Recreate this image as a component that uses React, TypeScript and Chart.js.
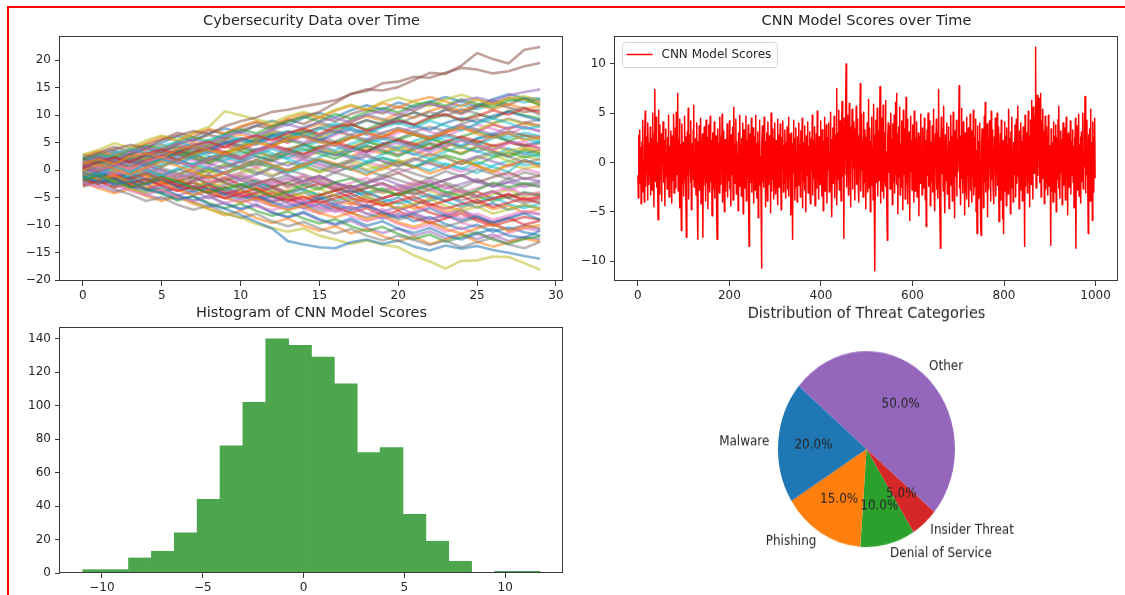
import React, { useEffect, useRef } from "react";
import { Chart, registerables } from "chart.js";

Chart.register(...registerables);

const FONT = "'DejaVu Sans', 'Noto Sans', sans-serif";
const TEXT = "#262626";
const SPINE = "#3a3a3a";

// ---------- data ----------
const timeSteps = [0, 1, 2, 3, 4, 5, 6, 7, 8, 9, 10, 11, 12, 13, 14, 15, 16, 17, 18, 19, 20, 21, 22, 23, 24, 25, 26, 27, 28, 29];
const walkColors = ["#1f77b4", "#ff7f0e", "#2ca02c", "#d62728", "#9467bd", "#8c564b", "#e377c2", "#7f7f7f", "#bcbd22", "#17becf"];
const walks: number[][] = [
  [-0.5, -1.2, -2.6, -2.0, -3.5, -4.1, -5.3, -4.8, -6.2, -7.0, -8.1, -9.4, -10.6, -12.9, -13.5, -14.0, -14.2, -13.1, -12.6, -13.4, -12.8, -13.9, -14.6, -13.7, -14.3, -13.8, -14.5, -15.0, -15.6, -16.1],
  [1.2, 2.0, 1.1, 2.5, 3.1, 2.2, 3.8, 4.4, 3.6, 2.9, 4.1, 5.0, 4.3, 5.7, 6.2, 5.1, 4.6, 5.9, 6.8, 6.0, 7.3, 6.5, 5.8, 6.9, 7.7, 6.6, 5.9, 6.7, 5.5, 6.0],
  [-1.8, -0.9, -2.1, -3.0, -2.4, -1.2, -2.0, -3.3, -4.1, -3.2, -2.5, -3.6, -4.8, -3.9, -2.7, -3.5, -2.2, -1.5, -2.8, -3.7, -4.5, -3.4, -2.6, -3.9, -4.7, -3.6, -2.3, -3.1, -2.4, -3.0],
  [0.4, 1.6, 2.3, 1.5, 2.9, 3.8, 3.0, 4.5, 5.2, 4.1, 5.6, 6.3, 5.4, 6.8, 7.5, 6.6, 7.9, 8.4, 7.2, 8.1, 9.0, 8.3, 9.6, 10.2, 9.1, 9.8, 10.9, 10.1, 11.2, 10.5],
  [1.5, 2.4, 1.8, 3.3, 4.1, 3.5, 4.9, 5.6, 4.8, 6.2, 7.0, 6.1, 7.4, 8.3, 7.6, 8.8, 9.5, 8.7, 10.1, 10.8, 10.0, 11.3, 12.1, 11.4, 12.6, 13.2, 12.5, 13.6, 14.2, 14.7],
  [2.0, 3.1, 3.8, 4.6, 4.0, 5.5, 6.3, 7.1, 6.6, 8.0, 8.9, 9.6, 10.6, 11.0, 11.6, 12.1, 12.7, 13.8, 14.7, 14.5, 15.1, 16.4, 17.7, 17.5, 19.0, 21.3, 20.2, 19.4, 21.9, 22.4],
  [-2.3, -3.1, -2.4, -3.8, -4.5, -3.6, -4.9, -5.7, -4.8, -6.0, -5.2, -6.5, -7.3, -6.4, -5.5, -6.8, -7.6, -6.7, -8.0, -7.1, -8.3, -7.5, -6.6, -7.8, -8.7, -7.9, -9.0, -8.2, -7.4, -8.0],
  [0.9, 0.1, 1.4, 2.2, 1.3, 0.6, 1.9, 2.7, 1.8, 3.0, 2.1, 1.2, 2.5, 3.4, 2.6, 1.7, 0.8, 1.9, 2.8, 1.6, 0.7, 1.8, 3.0, 2.2, 1.1, 2.4, 3.3, 2.5, 1.4, 2.0],
  [-0.2, -1.3, -2.0, -3.4, -4.1, -3.5, -5.0, -5.8, -7.1, -7.9, -8.6, -9.8, -10.5, -11.2, -10.6, -11.9, -12.6, -13.4, -12.8, -13.5, -14.0, -15.5, -16.6, -17.9, -16.5, -16.4, -15.7, -15.8, -16.9, -18.1],
  [2.5, 1.7, 3.0, 3.9, 3.1, 4.4, 5.2, 4.3, 5.6, 6.4, 5.5, 4.7, 6.0, 6.9, 6.1, 7.4, 8.2, 7.3, 6.5, 7.8, 8.6, 7.7, 9.0, 8.1, 7.2, 8.5, 9.4, 8.6, 7.5, 8.0],
  [-1.1, -2.2, -1.5, -3.0, -3.9, -3.2, -4.6, -5.5, -4.7, -6.1, -7.0, -6.2, -7.7, -8.5, -7.6, -8.9, -9.8, -8.8, -10.1, -9.3, -10.6, -11.4, -10.5, -11.8, -12.6, -11.5, -10.7, -11.9, -12.3, -11.0],
  [0.0, 1.1, 0.3, -0.8, 0.5, 1.6, 0.8, -0.3, -1.4, -0.5, 0.7, 1.9, 1.0, -0.1, 0.9, 2.1, 1.2, 0.2, -0.9, 0.3, 1.5, 0.6, -0.6, 0.4, 1.7, 0.8, -0.4, 0.9, 1.8, 0.5],
  [1.9, 3.0, 2.2, 3.6, 4.5, 3.8, 5.1, 6.0, 5.2, 6.6, 7.4, 6.7, 8.0, 8.8, 9.7, 8.9, 10.2, 9.4, 10.6, 11.3, 10.5, 11.8, 12.5, 11.7, 12.9, 12.1, 11.4, 12.6, 13.0, 11.8],
  [-2.7, -1.9, -3.2, -2.4, -1.6, -2.9, -3.8, -3.0, -4.3, -5.1, -4.2, -3.4, -4.7, -5.6, -4.8, -6.0, -5.1, -4.3, -5.5, -6.4, -5.6, -4.8, -6.1, -7.0, -6.2, -5.4, -6.7, -5.9, -5.1, -6.0],
  [0.6, -0.4, 0.8, 1.7, 0.9, -0.2, -1.3, -0.5, 0.6, -0.6, -1.7, -0.8, 0.3, -0.9, -2.0, -1.1, -2.3, -3.2, -2.4, -1.5, -2.6, -3.5, -2.7, -1.8, -0.9, -2.1, -3.0, -2.2, -1.4, -2.0],
  [1.0, 2.2, 1.6, 3.0, 3.9, 3.2, 4.7, 5.5, 6.4, 5.8, 7.2, 8.1, 7.5, 8.9, 9.8, 10.6, 12.2, 13.9, 14.4, 15.8, 16.1, 17.0, 16.8, 17.7, 18.6, 18.3, 17.6, 18.0, 18.9, 19.5],
  [-0.8, 0.3, 1.1, 0.2, 1.5, 2.4, 1.6, 0.7, 2.0, 2.9, 2.0, 3.3, 4.2, 3.3, 2.4, 3.7, 4.6, 3.7, 2.8, 4.1, 5.0, 4.1, 3.2, 4.5, 5.4, 4.5, 3.6, 4.9, 5.2, 4.0],
  [-3.0, -2.1, -3.5, -4.4, -5.6, -4.9, -6.3, -7.2, -6.4, -7.8, -8.7, -7.9, -9.3, -10.2, -9.4, -10.6, -11.5, -10.7, -11.9, -12.8, -11.9, -12.7, -13.6, -12.8, -14.0, -13.1, -12.3, -13.5, -14.2, -13.0],
  [2.8, 3.7, 4.9, 4.1, 5.4, 6.3, 5.5, 6.8, 7.9, 10.7, 10.0, 9.2, 8.6, 9.8, 10.6, 9.7, 11.0, 11.9, 11.1, 12.4, 13.2, 12.4, 11.6, 12.9, 13.7, 12.8, 11.9, 13.0, 13.5, 12.6],
  [-1.5, -0.6, 0.5, -0.3, 1.0, 1.9, 1.1, 2.4, 3.3, 2.5, 1.6, 2.9, 3.8, 3.0, 4.3, 5.2, 4.4, 3.5, 4.8, 5.7, 4.9, 4.0, 5.3, 6.2, 5.4, 4.5, 5.8, 6.6, 5.7, 5.0],
  [0.3, 1.4, 2.3, 1.5, 2.8, 2.0, 3.4, 4.3, 3.5, 4.9, 5.8, 5.0, 6.3, 7.1, 6.3, 5.4, 6.7, 7.6, 6.8, 8.1, 9.0, 8.2, 7.3, 8.6, 9.5, 8.7, 9.9, 10.6, 9.8, 9.0],
  [-0.6, -1.7, -0.9, -2.3, -3.1, -2.2, -3.6, -4.5, -3.7, -5.0, -5.9, -5.1, -6.4, -7.3, -6.5, -7.8, -8.6, -7.7, -9.0, -8.2, -9.5, -10.3, -9.4, -10.7, -11.5, -10.6, -9.8, -11.1, -10.4, -10.0],
  [2.2, 1.3, 2.6, 1.7, 0.8, 2.1, 3.0, 2.2, 1.3, 2.6, 3.5, 2.6, 1.7, 3.0, 3.9, 3.0, 2.1, 3.4, 4.3, 3.4, 2.5, 3.8, 4.7, 3.8, 2.9, 4.2, 3.3, 2.4, 3.6, 3.0],
  [-1.4, -2.5, -1.7, -3.0, -2.2, -1.3, -2.6, -3.5, -2.7, -4.0, -4.9, -4.1, -3.2, -4.5, -5.4, -4.6, -3.7, -5.0, -5.9, -5.1, -4.2, -5.5, -6.4, -5.6, -4.7, -6.0, -5.2, -4.3, -5.6, -5.0],
  [0.7, 1.8, 1.0, 2.4, 3.3, 2.5, 3.9, 4.8, 4.0, 5.3, 4.5, 3.6, 4.9, 5.8, 5.0, 6.3, 7.2, 6.4, 5.5, 6.8, 7.7, 6.9, 6.0, 7.3, 8.2, 7.4, 6.5, 7.8, 7.9, 7.0],
  [-2.0, -1.1, -2.3, -1.4, -0.5, -1.8, -2.7, -1.9, -1.0, -2.3, -3.2, -2.4, -1.5, -2.8, -1.9, -1.0, -2.3, -3.2, -2.3, -1.4, -0.5, -1.8, -2.7, -1.8, -0.9, -2.2, -1.3, -0.4, -1.6, -1.0],
  [1.3, 0.4, -0.7, 0.5, -0.4, -1.6, -0.8, -2.1, -1.3, -0.4, -1.7, -2.6, -1.8, -3.1, -2.2, -1.3, -2.6, -3.5, -2.7, -4.0, -3.1, -2.2, -3.5, -4.4, -3.6, -4.9, -4.0, -3.1, -4.5, -4.0],
  [-0.3, 0.8, 1.9, 1.1, 2.4, 3.3, 4.5, 3.7, 5.0, 5.9, 5.1, 6.4, 7.3, 6.5, 7.8, 8.7, 7.9, 9.2, 10.1, 9.3, 8.4, 9.7, 10.6, 9.8, 11.1, 10.3, 9.4, 10.7, 11.4, 10.0],
  [1.7, 0.6, -0.3, 0.5, -0.8, -1.7, -0.9, -2.2, -3.1, -2.3, -3.6, -4.5, -3.7, -5.0, -4.2, -3.3, -4.6, -5.5, -4.7, -6.0, -6.9, -6.1, -5.2, -6.5, -7.4, -6.6, -7.9, -7.1, -6.3, -7.0],
  [-2.5, -1.4, -2.2, -0.9, -0.1, -1.0, 0.3, 1.2, 0.4, -0.5, 0.8, 1.7, 0.9, -0.4, 0.5, 1.8, 1.0, 0.1, 1.4, 2.3, 1.5, 0.6, 1.9, 1.0, 0.2, 1.5, 0.6, -0.3, 1.9, 1.0],
  [0.1, -1.0, -0.2, -1.6, -2.5, -1.7, -3.0, -3.9, -3.1, -4.4, -5.3, -4.5, -5.8, -6.7, -5.9, -5.0, -6.3, -7.2, -6.4, -7.7, -8.6, -7.8, -6.9, -8.2, -9.1, -8.3, -9.6, -8.8, -7.9, -9.0],
  [2.6, 3.5, 2.7, 4.0, 4.9, 6.1, 5.3, 6.6, 7.5, 6.7, 8.0, 8.9, 8.1, 9.4, 10.3, 9.5, 10.8, 11.7, 10.9, 12.2, 11.3, 12.6, 13.3, 12.5, 11.6, 12.9, 12.0, 13.2, 12.8, 12.0],
  [-0.9, -2.0, -2.9, -2.1, -3.4, -4.3, -5.5, -4.7, -6.0, -6.9, -6.1, -7.4, -8.3, -7.5, -8.8, -9.7, -8.9, -10.2, -11.1, -10.3, -11.6, -12.5, -11.7, -13.0, -12.2, -11.3, -12.6, -13.4, -12.5, -12.0],
  [1.1, 2.2, 1.4, 0.5, 1.8, 2.7, 1.9, 3.2, 4.1, 3.3, 2.4, 3.7, 4.6, 3.8, 2.9, 4.2, 5.1, 4.3, 3.4, 4.7, 5.6, 4.8, 3.9, 5.2, 6.1, 5.3, 4.4, 5.1, 4.6, 4.0],
  [-1.9, -1.0, -2.3, -3.2, -2.4, -3.7, -4.6, -3.8, -5.1, -4.3, -3.4, -4.7, -5.6, -4.8, -6.1, -7.0, -6.2, -5.3, -6.6, -7.5, -6.7, -8.0, -8.9, -8.1, -7.2, -8.5, -9.4, -8.6, -7.7, -8.0],
  [0.5, -0.4, 0.9, 1.8, 1.0, 2.3, 1.5, 0.6, 1.9, 2.8, 2.0, 3.3, 4.2, 3.4, 4.7, 5.6, 4.8, 3.9, 5.2, 6.1, 5.3, 4.4, 5.7, 6.6, 5.8, 4.9, 6.2, 7.1, 6.3, 6.0],
  [-0.1, 1.0, 0.2, -0.9, 0.4, -0.7, -1.6, -0.8, -2.1, -1.3, -0.4, -1.7, -2.6, -1.8, -0.9, -2.2, -3.1, -2.3, -1.4, -2.7, -3.6, -2.8, -1.9, -3.2, -4.1, -3.3, -2.4, -3.7, -2.6, -3.0],
  [2.9, 2.0, 3.3, 2.4, 1.5, 2.8, 1.9, 1.0, 2.3, 1.4, 0.5, 1.8, 0.9, 0.0, 1.3, 0.4, -0.5, 0.8, -0.1, -1.0, 0.3, -0.6, -1.5, -0.2, -1.1, 0.2, -0.7, -1.6, -0.4, -1.0],
  [-1.0, 0.1, 1.0, 0.2, 1.5, 2.4, 1.6, 2.9, 3.8, 3.0, 4.3, 5.2, 4.4, 5.7, 6.6, 5.8, 7.1, 6.3, 5.4, 6.7, 7.6, 6.8, 5.9, 7.2, 8.1, 7.3, 8.6, 9.2, 8.4, 8.0],
  [0.2, -0.9, 0.3, -0.6, -1.8, -1.0, -2.3, -3.2, -2.4, -3.7, -2.9, -2.0, -3.3, -4.2, -3.4, -4.7, -5.6, -4.8, -3.9, -5.2, -6.1, -5.3, -4.4, -5.7, -6.6, -5.8, -4.9, -6.2, -6.9, -6.0],
  [1.6, 2.7, 3.6, 2.8, 4.1, 5.0, 6.2, 5.4, 6.7, 7.6, 6.8, 8.1, 9.0, 8.2, 9.5, 10.4, 9.6, 10.9, 11.8, 11.0, 12.3, 11.5, 12.4, 13.3, 12.5, 11.6, 12.9, 13.8, 13.1, 13.0],
  [-2.2, -3.3, -4.2, -3.4, -4.7, -5.6, -4.8, -6.1, -7.0, -8.2, -7.4, -8.7, -9.6, -8.8, -10.1, -11.0, -10.2, -11.5, -10.7, -12.0, -12.9, -12.1, -13.4, -12.6, -11.7, -13.0, -13.9, -13.1, -12.4, -13.0],
  [0.8, 1.7, 0.9, 2.2, 1.4, 2.7, 3.6, 2.8, 1.9, 3.2, 4.1, 3.3, 4.6, 5.5, 4.7, 3.8, 5.1, 6.0, 5.2, 4.3, 5.6, 6.5, 5.7, 4.8, 6.1, 7.0, 6.2, 5.3, 6.3, 5.5],
  [-0.4, 0.5, -0.7, -1.6, -0.8, -2.1, -3.0, -2.2, -3.5, -4.4, -3.6, -4.9, -5.8, -5.0, -6.3, -5.5, -6.8, -7.7, -6.9, -8.2, -7.4, -8.7, -9.6, -8.8, -7.9, -9.2, -10.1, -9.3, -8.5, -9.0],
  [2.1, 1.2, 2.5, 1.6, 0.7, 2.0, 2.9, 2.1, 1.2, 0.3, 1.6, 2.5, 1.7, 0.8, 2.1, 1.2, 0.3, 1.6, 2.5, 1.7, 0.8, 2.1, 1.2, 0.3, 1.6, 2.5, 1.6, 0.7, 1.8, 1.0],
  [-1.2, -0.1, 0.9, 0.1, 1.4, 2.3, 3.5, 2.7, 4.0, 4.9, 4.1, 5.4, 6.3, 5.5, 6.8, 7.7, 6.9, 8.2, 9.1, 8.3, 9.6, 10.5, 9.7, 11.0, 10.2, 11.5, 12.2, 11.4, 10.6, 11.0],
  [0.9, -0.2, -1.1, -0.3, -1.6, -2.5, -3.7, -2.9, -4.2, -5.1, -4.3, -5.6, -6.5, -5.7, -7.0, -7.9, -7.1, -8.4, -9.3, -8.5, -9.8, -10.7, -9.9, -11.2, -10.4, -11.7, -12.2, -11.4, -10.6, -11.0],
  [-2.6, -1.5, -2.4, -1.1, -0.2, -1.1, 0.2, -0.7, -1.6, -0.3, 0.6, -0.3, -1.2, 0.1, -0.8, -1.7, -0.4, -1.3, -2.2, -0.9, -1.8, -2.7, -1.4, -2.3, -3.2, -1.9, -2.8, -1.5, -2.6, -2.0],
  [1.4, 0.5, 1.8, 2.7, 1.9, 0.6, 1.9, 2.8, 2.0, 3.3, 4.2, 3.4, 2.5, 3.8, 4.7, 3.9, 3.0, 4.3, 5.2, 4.4, 3.5, 4.8, 5.7, 4.9, 4.0, 5.3, 4.4, 3.5, 4.1, 3.5],
  [-0.7, 0.4, 1.3, 0.5, -0.4, 0.9, 1.8, 1.0, 2.3, 1.5, 0.6, 1.9, 2.8, 2.0, 1.1, 2.4, 3.3, 2.5, 1.6, 2.9, 3.8, 3.0, 2.1, 3.4, 4.3, 3.5, 2.6, 3.9, 3.1, 2.5],
  [0.3, -0.8, 0.6, 1.9, 1.2, 2.6, 1.8, 0.9, 2.3, 3.1, 2.0, 3.4, 2.5, 3.9, 4.6, 3.5, 2.8, 4.1, 3.3, 4.8, 5.5, 4.3, 3.6, 5.0, 4.2, 5.7, 6.4, 5.3, 4.5, 5.2],
  [-0.9, 0.4, -0.5, -1.7, -1.0, -2.4, -1.6, -3.0, -2.1, -3.5, -4.2, -3.1, -4.5, -3.7, -5.0, -4.3, -5.6, -6.2, -5.1, -6.5, -5.8, -7.0, -6.3, -7.6, -6.9, -5.8, -7.1, -6.4, -7.8, -7.0],
  [1.8, 2.5, 1.4, 2.9, 2.2, 3.5, 4.3, 3.2, 4.6, 5.4, 4.5, 5.8, 6.7, 5.9, 7.2, 6.3, 7.5, 8.3, 7.4, 8.7, 9.4, 8.2, 9.3, 10.1, 9.0, 10.2, 9.5, 10.8, 10.0, 9.4],
  [-1.6, -2.4, -1.3, -2.7, -3.5, -2.6, -1.9, -3.2, -4.0, -3.1, -4.4, -5.1, -4.0, -5.3, -6.1, -5.2, -4.5, -5.9, -6.7, -5.8, -7.2, -6.4, -7.7, -8.5, -7.4, -8.8, -9.6, -8.7, -9.9, -9.2],
  [0.6, 1.3, 2.4, 1.7, 0.9, 2.0, 1.2, 2.5, 3.6, 2.9, 2.1, 3.3, 4.4, 3.6, 2.7, 3.9, 3.0, 2.2, 3.4, 4.5, 3.7, 2.8, 4.0, 5.1, 4.2, 3.3, 4.6, 3.8, 2.9, 3.8],
  [-0.2, -1.4, -0.6, 0.5, -0.3, -1.5, -2.2, -1.1, -2.5, -1.8, -0.9, -2.1, -3.0, -2.2, -1.2, -2.4, -3.3, -4.1, -3.2, -2.3, -3.6, -4.4, -3.5, -2.6, -3.9, -4.8, -3.9, -5.0, -4.2, -4.6],
  [2.3, 1.6, 2.8, 3.7, 2.9, 4.0, 4.9, 4.1, 3.3, 4.5, 5.4, 4.6, 5.8, 6.9, 6.0, 5.1, 6.4, 7.3, 6.5, 5.6, 6.8, 7.9, 7.0, 6.1, 7.4, 8.3, 7.5, 6.6, 7.8, 7.2],
  [-2.4, -1.6, -2.8, -2.0, -3.3, -4.1, -3.2, -4.5, -3.7, -4.9, -5.8, -5.0, -6.2, -7.1, -6.3, -7.5, -6.6, -7.8, -8.6, -7.7, -9.0, -8.2, -9.5, -10.3, -9.4, -8.6, -9.9, -10.8, -10.0, -10.6],
  [1.0, 0.2, 1.3, 0.4, 1.6, 2.5, 1.7, 0.8, -0.1, 1.1, 0.2, -0.7, 0.5, 1.4, 0.6, -0.3, 0.9, 1.8, 1.0, 0.1, 1.3, 2.2, 1.4, 0.5, 1.7, 0.8, -0.1, 1.1, 0.3, 0.8],
  [-0.5, 0.6, 1.5, 0.7, 2.0, 1.2, 2.5, 3.4, 2.6, 1.8, 3.0, 3.9, 3.1, 2.2, 3.5, 4.4, 3.6, 4.8, 5.7, 4.9, 4.0, 5.3, 6.2, 5.4, 4.5, 5.8, 6.7, 5.9, 6.8, 6.2],
  [0.0, -1.1, -2.0, -1.2, -2.5, -1.7, -3.0, -2.2, -3.5, -4.3, -3.5, -2.6, -3.9, -4.8, -4.0, -5.3, -4.5, -3.6, -4.9, -5.8, -5.0, -6.3, -5.5, -4.6, -5.9, -6.8, -6.0, -7.2, -6.4, -6.9],
  [1.4, 2.3, 1.5, 2.8, 3.7, 4.6, 3.8, 5.1, 4.3, 5.6, 6.5, 5.7, 7.0, 6.2, 7.5, 8.4, 7.6, 8.9, 9.8, 9.0, 10.3, 9.5, 10.8, 11.6, 10.8, 11.9, 11.1, 12.0, 11.2, 11.6],
  [-1.2, -0.3, -1.5, -0.6, 0.3, -0.8, -1.7, -0.9, 0.2, -0.7, 0.4, 1.3, 0.5, -0.4, 0.9, 1.8, 1.0, 0.1, 1.3, 2.2, 1.4, 0.5, 1.8, 2.7, 1.9, 1.0, 2.3, 3.2, 2.4, 2.9],
  [0.8, -0.3, -1.2, -0.4, -1.7, -2.6, -1.8, -3.1, -2.3, -1.4, -2.7, -3.6, -2.8, -4.1, -3.3, -2.4, -3.7, -2.9, -4.2, -5.1, -4.3, -3.4, -4.7, -5.6, -4.8, -3.9, -5.2, -4.4, -5.3, -4.8],
  [-1.9, -2.8, -3.9, -3.1, -4.4, -5.3, -4.5, -5.8, -6.7, -5.9, -7.2, -6.4, -7.7, -8.6, -7.8, -9.1, -10.0, -9.2, -10.5, -11.4, -10.6, -11.9, -11.1, -12.4, -11.6, -12.5, -11.7, -12.9, -12.1, -12.6],
  [2.4, 3.3, 4.2, 3.4, 4.7, 5.6, 6.8, 6.0, 7.3, 6.5, 7.8, 8.7, 7.9, 9.2, 8.4, 9.7, 8.9, 10.2, 11.1, 10.3, 11.6, 10.8, 12.1, 11.3, 10.5, 11.8, 12.7, 11.9, 13.1, 12.4],
  [-0.4, 0.7, -0.2, 1.1, 0.3, 1.6, 2.5, 1.7, 0.8, 2.1, 1.3, 0.4, 1.7, 2.6, 1.8, 0.9, -0.2, 0.6, 1.5, 0.7, -0.4, 0.5, 1.4, 0.6, -0.3, 0.8, -0.1, -1.0, 0.2, -0.5],
  [1.1, 0.0, 1.2, 0.3, -0.8, 0.4, -0.5, -1.6, -0.8, -2.1, -1.3, -2.6, -1.8, -0.9, -2.2, -3.1, -2.3, -3.6, -4.5, -3.7, -2.8, -4.1, -5.0, -4.2, -5.5, -4.7, -3.8, -5.1, -6.0, -5.4],
  [-2.9, -2.0, -1.1, -2.4, -1.5, -0.6, -1.9, -1.0, -0.1, -1.4, -0.5, 0.4, -0.9, 0.0, 0.9, -0.4, 0.5, 1.4, 0.1, 1.0, 1.9, 0.6, 1.5, 2.4, 1.1, 2.0, 2.9, 1.6, 2.5, 2.0],
  [0.5, 1.6, 0.8, 2.1, 3.0, 2.2, 3.5, 4.4, 3.6, 4.9, 5.8, 5.0, 6.3, 5.5, 6.8, 7.7, 8.6, 7.8, 9.1, 8.3, 9.6, 10.5, 9.7, 11.0, 11.9, 11.1, 12.0, 13.1, 12.3, 12.9],
  [-0.7, -1.8, -0.9, -2.2, -1.4, -2.7, -3.6, -2.8, -4.1, -3.3, -4.6, -5.5, -4.7, -6.0, -6.9, -6.1, -7.4, -6.6, -7.9, -8.8, -8.0, -9.3, -8.5, -9.8, -10.7, -9.9, -11.2, -10.4, -11.3, -11.9],
  [1.7, 0.8, 2.1, 1.3, 2.6, 1.8, 3.1, 2.3, 1.4, 2.7, 1.9, 3.2, 2.4, 3.7, 2.9, 4.2, 3.4, 2.5, 3.8, 3.0, 4.3, 3.5, 2.6, 3.9, 3.1, 4.4, 3.6, 2.7, 3.9, 3.3],
  [-1.3, -0.4, -1.6, -2.5, -1.7, -0.8, -2.1, -1.3, -2.6, -3.5, -2.7, -1.8, -3.1, -2.3, -3.6, -4.5, -3.7, -2.8, -4.1, -3.3, -4.6, -3.8, -2.9, -4.2, -3.4, -4.7, -5.6, -4.8, -4.0, -4.5],
  [0.2, 1.1, 2.0, 1.2, 2.5, 3.4, 2.6, 3.9, 3.1, 4.4, 3.6, 4.9, 5.8, 5.0, 6.3, 5.5, 4.6, 5.9, 6.8, 6.0, 7.3, 6.5, 5.6, 6.9, 7.8, 7.0, 8.3, 7.5, 8.6, 8.1],
  [-2.1, -1.2, -2.5, -3.4, -2.6, -3.9, -3.1, -2.2, -3.5, -2.7, -1.8, -3.1, -2.3, -1.4, -2.7, -1.9, -3.2, -4.1, -3.3, -2.4, -3.7, -2.9, -2.0, -3.3, -2.5, -1.6, -2.9, -2.1, -3.0, -2.4],
  [0.9, 1.8, 0.9, -0.2, 1.0, 0.1, -0.8, 0.4, -0.5, 0.7, 1.6, 0.8, 2.1, 3.0, 2.2, 3.5, 2.7, 3.6, 4.5, 3.7, 2.8, 4.1, 5.0, 4.2, 5.5, 4.7, 3.8, 5.1, 4.3, 4.9],
  [-0.1, -1.0, 0.2, -0.7, -1.9, -1.1, -2.4, -3.3, -2.5, -3.8, -4.7, -3.9, -5.2, -4.4, -5.7, -6.6, -5.8, -7.1, -6.3, -7.6, -8.5, -7.7, -9.0, -8.2, -9.5, -10.4, -9.6, -10.9, -10.1, -10.8],
  [1.3, 2.2, 3.1, 2.3, 1.4, 2.7, 3.6, 2.8, 4.1, 5.0, 4.2, 5.5, 4.7, 6.0, 6.9, 6.1, 5.2, 6.5, 7.4, 6.6, 5.7, 7.0, 7.9, 7.1, 8.4, 9.3, 8.5, 9.4, 8.6, 9.2],
  [-1.7, -0.8, -2.1, -1.3, -0.4, -1.7, -0.9, 0.0, -1.3, -0.5, -1.8, -2.7, -1.9, -3.2, -2.4, -1.5, -2.8, -3.7, -2.9, -4.2, -3.4, -2.5, -3.8, -4.7, -3.9, -5.2, -4.4, -3.5, -4.8, -4.1],
  [0.4, -0.5, -1.4, -0.6, 0.3, -0.9, 0.0, 0.9, 0.1, 1.0, 0.2, -0.7, 0.6, 1.5, 0.7, -0.2, 1.1, 0.3, -0.6, 0.7, 1.6, 0.8, -0.1, 1.2, 0.4, -0.5, 0.8, 1.7, 0.9, 1.3],
];

const cnnScores = [
  -1.3, -3.6, 2.8, -0.4, 3.3, -2.1, 1.5, -4.2, 0.8, 2.1, -3.0, 4.3, -1.7, 0.2, -4.0, 3.1, 5.2, -2.4, 1.0, -0.9, 2.6, -3.8, 4.0, 0.5, -2.2,
  1.9, -1.1, 3.6, -3.3, 0.7, 2.4, -2.8, 5.0, -0.6, 1.2, -4.5, 3.0, 7.4, -1.9, 0.3, 4.6, -2.5, 2.0, -0.8, -5.8, 5.3, 1.4, -3.2, 3.8, 0.1,
  -1.6, 2.9, -3.9, 1.7, 0.4, 4.1, -2.0, -0.3, 2.2, -4.4, 1.1, 3.4, -1.4, 0.9, -2.7, 2.5, -0.5, 4.8, -3.5, 1.6, -1.0, 0.6, 3.2, -2.3, -4.1,
  2.7, 0.0, -1.8, 4.9, -3.1, 1.3, -0.7, 3.5, -2.6, 5.1, 0.8, -1.2, 7.0, -2.9, 2.3, -0.2, 4.4, -4.6, 1.8, -1.5, -6.9, 3.9, 0.4, -2.1, 2.0,
  -3.4, 1.5, 4.7, -0.9, 2.6, -2.4, -7.6, 0.7, 3.1, -1.3, 5.5, -3.7, 1.0, -0.4, 2.8, -2.0, 4.2, -4.8, 0.3, 1.9, -1.7, 3.3, 5.8, -2.5, 0.9,
  -0.6, 2.4, -3.3, 1.2, 4.0, -5.1, -7.8, 2.1, -1.0, 3.7, -2.8, 0.5, 4.5, -4.2, 1.4, -0.1, 2.9, -7.6, 0.2, -2.3, 3.6, -1.5, 1.7, -3.9, 4.3,
  0.8, -2.0, 2.5, -4.7, 1.1, 3.8, -0.8, -3.0, 4.7, 0.3, -1.9, 2.2, -5.4, 1.6, 3.0, -2.6, 0.0, 4.1, -3.6, 1.3, -1.1, 2.7, -4.3, -7.8, 0.6,
  3.4, -1.4, 1.9, -3.1, 4.6, 0.2, -2.2, 2.6, -0.7, 4.9, -4.0, 1.0, -1.6, 3.2, -5.0, 0.9, 2.3, -2.9, 1.5, -0.3, 3.9, -3.5, 0.4, 2.0, -1.8,
  4.2, -2.7, 0.6, -4.4, 2.8, 1.2, -1.2, 3.6, -3.8, 0.1, 5.6, -2.1, 1.8, -0.5, 4.4, -3.2, 2.1, -1.7, 0.8, -4.9, 3.0, 1.4, -2.4, 4.8, -0.9,
  1.7, -3.4, 2.4, -1.1, 4.0, -5.2, 0.5, 3.3, -2.6, 1.1, -0.2, 4.7, -3.9, 2.2, -1.4, 0.7, 3.8, -4.6, -8.5, 1.6, 2.9, -2.0, 0.3, 4.5, -3.0,
  1.0, -1.6, 3.5, -4.1, 0.9, 2.6, -2.8, 4.8, -0.6, 1.9, -3.6, 0.2, 3.1, -5.6, 2.0, -1.0, 4.3, -2.3, 0.6, -3.3, -10.7, 1.5, 3.7, -1.9, 0.4,
  -2.5, 4.6, -0.8, 2.1, -4.5, 1.3, 3.0, -1.3, -3.9, 4.1, 0.7, -2.2, 2.7, -0.4, 1.8, -5.1, 5.0, -2.9, 0.0, 3.4, -1.7, 2.4, -3.7, 1.2, 4.0,
  -0.9, -3.2, 2.2, 0.6, -1.9, 4.4, -4.3, 1.6, 2.8, -2.5, 0.3, 3.9, -1.2, -4.8, 2.5, 1.0, -0.6, 4.2, -3.0, 1.7, -2.1, 3.3, 0.5, -3.6, 2.0,
  -1.4, 3.6, -2.7, 0.8, 4.6, -3.4, 1.4, -0.3, 2.9, -5.3, 0.2, 3.0, -2.0, -7.8, 1.9, 4.3, -1.0, 2.4, -3.8, 0.7, 3.5, -2.4, 1.1, -4.0, 2.6,
  0.1, -2.3, 4.0, -1.5, 1.8, -3.5, 3.2, 0.6, -0.9, 4.5, -4.6, 2.0, -1.9, 0.9, 3.7, -2.8, 1.3, -5.0, 2.7, 0.4, -1.3, 4.1, -3.1, 1.6, 0.0,
  3.1, -2.0, -4.2, 1.5, 2.4, -0.8, 4.8, -3.3, 0.7, 2.2, -1.6, 3.6, -4.4, 1.0, -0.4, 2.9, -2.6, 5.2, -1.1, 0.3, -3.7, 2.6, 1.2, -2.2, 4.2,
  -1.8, 0.8, -3.4, 3.3, 1.9, -4.9, 2.1, -0.2, 4.6, -2.9, 1.4, -1.4, 3.8, -4.1, 0.5, 2.5, -0.7, 4.0, -3.0, 1.0, -2.4, 5.1, -1.0, 2.3, -5.5,
  1.7, 3.5, -2.1, 0.4, 4.7, -3.6, 2.8, -0.5, 1.2, 7.5, -4.3, 0.9, 3.0, -1.7, 5.3, -2.8, 1.5, 4.2, -0.9, -3.9, 2.6, 6.2, -1.4, 3.9, 0.6,
  -7.7, 4.5, -1.2, 2.0, 5.6, 10.0, -2.5, 3.1, 0.2, 4.8, -3.3, 1.8, 6.0, -1.9, 2.9, -4.5, 3.6, 0.8, 5.4, -2.7, 1.3, 4.1, -0.6, 2.4, -3.8,
  3.4, 0.5, 5.7, -2.2, 1.9, 4.4, -1.5, 2.7, -4.0, 0.9, 3.8, 8.0, -2.9, 1.4, 4.9, -0.8, 2.2, -3.5, 5.1, 0.0, -2.0, 3.3, 1.6, -4.7, 2.5,
  -1.1, 4.0, -3.0, 1.2, 6.4, -2.6, 0.7, 3.5, -5.0, 2.1, -0.4, 4.6, -2.3, 1.5, -3.8, 5.9, 0.3, -1.6, -11.0, 2.8, 4.3, -2.0, 1.0, 5.5, -3.4,
  0.9, 3.2, -1.8, 2.5, 7.7, -4.1, 1.7, -0.5, 4.5, -2.9, 2.0, 5.8, -3.6, 0.4, 3.0, -1.3, 6.3, -2.4, 1.1, -4.6, -7.9, 2.6, 4.0, -1.0, 0.6,
  3.7, -2.7, 1.4, 5.0, -0.7, 2.3, -4.3, 3.9, 0.1, -1.9, 4.8, -3.1, 1.6, 6.1, -0.2, 7.0, -2.2, 2.9, -5.2, 0.8, 3.6, -1.5, 5.6, -3.3, 1.9,
  -0.6, 4.2, -2.5, 2.0, -4.8, 5.3, 0.5, -1.2, 3.4, -3.7, 1.3, 6.6, -2.0, 0.0, 4.4, -4.2, 2.7, -1.4, 3.1, -5.9, 1.0, 4.7, -0.9, 2.2, -2.8,
  3.8, -1.7, 0.6, -4.0, 5.2, 1.5, -2.9, 2.4, -0.3, 4.1, -3.5, 1.8, -1.0, 3.0, -5.4, 0.9, 2.6, -2.1, 4.9, -0.5, 1.2, -3.3, 3.5, -1.6, 0.4,
  -2.6, 4.5, 1.1, -3.8, 2.2, -6.5, 0.7, 3.3, -1.3, 5.0, -2.4, 1.6, -0.8, 4.2, -4.4, 2.0, 0.2, -1.9, 3.7, -3.0, 1.4, 5.4, -2.2, 0.8, -4.9,
  2.9, -0.4, 4.4, -2.7, 1.0, -3.6, 3.1, 7.4, -1.5, 2.5, -4.1, -8.7, 1.7, 4.6, -1.1, 0.3, 3.4, -2.9, 5.7, -0.7, 1.9, -5.1, 2.8, -1.8, 0.5,
  4.0, -3.2, 1.3, -0.6, 3.6, -4.7, 2.1, 0.4, -2.3, 4.8, -1.2, 2.6, -3.9, 0.9, 5.1, -2.0, 1.5, -5.6, 3.2, 0.0, -1.4, 4.3, -3.4, 2.3, -0.9,
  1.8, 3.9, 7.8, -2.6, 0.6, -4.3, 2.7, 5.5, -1.6, 1.1, -3.1, 4.1, -0.4, 2.2, -5.3, 3.0, 0.7, -2.1, 4.6, -3.7, 1.4, -0.2, 3.5, -4.5, 2.0,
  -1.0, 4.9, -2.8, 0.8, 3.2, -4.0, 1.9, -1.5, 5.3, -3.3, 0.3, 2.5, -2.4, 4.4, -5.0, 1.2, -7.2, 3.7, -1.9, 2.1, -3.6, 0.6, 4.0, -2.2, -6.4,
  -7.4, 1.6, 3.4, -0.8, 2.8, -4.6, 0.2, 4.7, -2.0, 6.1, -3.0, 1.0, -1.3, 3.9, -5.5, 2.4, 0.5, -2.7, 4.2, -0.5, 1.7, -3.9, 5.2, -1.7, 0.9,
  3.3, -2.5, 1.4, -4.2, 2.6, 0.0, 4.5, -3.4, 1.1, -1.0, 5.0, -2.3, 0.7, 3.6, -6.0, 1.9, -0.6, 2.9, -3.8, 4.3, -1.5, 0.4, -5.7, 2.2, -7.2,
  1.5, 4.1, -2.9, 0.3, 2.7, -4.4, 3.5, -0.9, 1.8, -3.2, 5.4, 0.6, -1.8, 2.4, -5.2, 3.1, -0.3, 4.6, -2.6, 1.2, -4.0, 2.0, 0.9, -1.2, 3.8,
  -3.5, 1.0, 4.4, -2.1, 2.3, 5.7, -1.4, 0.5, -4.7, 3.2, 1.6, -2.8, 4.0, -0.7, 2.1, -3.9, 1.3, 3.6, -1.6, 0.2, -8.5, 4.8, -2.4, 1.9, -0.5,
  3.0, -3.1, 1.2, 5.2, -1.9, 2.6, -4.5, 0.8, 4.3, -2.2, 6.3, -0.6, 2.8, -3.7, 5.6, 1.4, -1.1, 4.6, 0.2, 11.7, -2.6, 5.9, 1.7, 6.8, -1.3,
  3.9, 0.6, 6.5, -2.0, 2.4, 7.0, -3.5, 4.2, 1.0, -1.6, 5.4, -0.4, 3.1, -4.2, 1.8, 4.7, -2.7, 0.3, 3.6, -1.2, 2.2, -3.3, 4.8, 0.9, -2.4,
  1.7, -0.8, -8.4, 3.4, -2.9, 2.0, 0.5, -4.0, 4.1, -1.4, 2.7, -3.0, 1.1, 3.8, -5.0, 0.4, 2.5, -1.7, 4.4, -2.6, 5.7, 0.0, -3.6, 1.9, 3.2,
  -1.0, 2.3, -4.3, 0.7, 4.0, -2.3, 1.5, -0.2, 3.5, -3.8, 1.0, 4.6, -1.8, 2.8, -5.3, 0.6, 3.0, -2.5, 1.3, -0.6, 4.2, -3.2, 2.1, -1.3, 0.9,
  3.3, -2.0, 1.6, -4.6, 2.5, 0.2, 4.5, -8.7, 1.1, -1.5, 3.7, -2.8, 0.4, 4.9, -3.4, 1.8, -0.9, 2.6, -4.1, 3.1, 0.7, -1.9, 5.0, -2.7, 1.2,
  -0.4, 3.6, 6.7, -3.1, 1.9, -1.2, 4.3, 0.5, -2.4, -7.2, 2.8, -0.7, 3.4, -3.9, 5.4, 1.0, -2.2, 2.0, -5.9, 4.1, 0.3, -3.0, 2.6, 4.5, -1.6,
];

const histCounts = [2, 2, 9, 13, 24, 44, 76, 102, 140, 136, 129, 113, 72, 75, 35, 19, 7, 0, 1, 1];
const histEdgeMin = -10.95;
const histEdgeMax = 11.74;

const threatLabels = ["Malware", "Phishing", "Denial of Service", "Insider Threat", "Other"];
const threatShares = [20, 15, 10, 5, 50];
const threatColors = ["#1f77b4", "#ff7f0e", "#2ca02c", "#d62728", "#9467bd"];

// ---------- helpers ----------
function fmtTick(v: number | string) {
  const n = Number(v);
  return n < 0 ? "\u2212" + String(Math.abs(n)) : String(n);
}

function hexA(hex: string, a: number) {
  const r = parseInt(hex.slice(1, 3), 16);
  const g = parseInt(hex.slice(3, 5), 16);
  const b = parseInt(hex.slice(5, 7), 16);
  return `rgba(${r},${g},${b},${a})`;
}

const tickFont = { size: 12, family: FONT };

function xAxis(min: number, max: number, step: number, height: number) {
  return {
    type: "linear",
    min,
    max,
    offset: false,
    ticks: { stepSize: step, autoSkip: false, maxRotation: 0, includeBounds: false, padding: 3, color: TEXT, font: tickFont, callback: fmtTick },
    grid: { offset: false, drawOnChartArea: false, drawTicks: true, tickLength: 5, color: SPINE },
    border: { display: false },
    afterFit: (s: any) => { s.height = height; },
  };
}

function yAxis(min: number, max: number, step: number, width: number) {
  return {
    type: "linear",
    min,
    max,
    ticks: { stepSize: step, autoSkip: false, includeBounds: false, padding: 4, color: TEXT, font: tickFont, callback: fmtTick },
    grid: { drawOnChartArea: false, drawTicks: true, tickLength: 5, color: SPINE },
    border: { display: false },
    afterFit: (s: any) => { s.width = width; },
  };
}

function titleOpt(text: string, top: number, bottom: number) {
  return {
    display: true,
    text,
    fullSize: false,
    color: TEXT,
    font: { size: 14.5, family: FONT, weight: "normal", lineHeight: 1.2 },
    padding: { top, bottom },
  };
}

const framePlugin = {
  id: "frame",
  afterDatasetsDraw(chart: any) {
    const { ctx, chartArea } = chart;
    const l = Math.round(chartArea.left) - 0.5;
    const t = Math.round(chartArea.top) + 0.5;
    const r = Math.round(chartArea.right) - 0.5;
    const b = Math.round(chartArea.bottom) - 0.5;
    ctx.save();
    ctx.strokeStyle = SPINE;
    ctx.lineWidth = 1;
    ctx.strokeRect(l, t, r - l, b - t);
    ctx.restore();
  },
};

const insideLegend = {
  id: "insideLegend",
  afterDatasetsDraw(chart: any) {
    const { ctx, chartArea } = chart;
    const ds = chart.data.datasets[0];
    ctx.save();
    ctx.font = `12px ${FONT}`;
    const tw = ctx.measureText(ds.label).width;
    const x = chartArea.left + 7.5;
    const y = chartArea.top + 6.5;
    const w = 39 + tw + 6;
    const h = 25;
    ctx.fillStyle = "rgba(255,255,255,0.8)";
    ctx.strokeStyle = "#d6d6d6";
    ctx.lineWidth = 1;
    ctx.beginPath();
    (ctx as any).roundRect(x, y, w, h, 3);
    ctx.fill();
    ctx.stroke();
    ctx.strokeStyle = ds.borderColor;
    ctx.lineWidth = 1.5;
    ctx.beginPath();
    ctx.moveTo(x + 4, y + 12);
    ctx.lineTo(x + 30, y + 12);
    ctx.stroke();
    ctx.fillStyle = TEXT;
    ctx.textAlign = "left";
    ctx.textBaseline = "middle";
    ctx.fillText(ds.label, x + 39, y + 12.5);
    ctx.restore();
  },
};

const pieLabelPlugin = {
  id: "pieLabels",
  afterDatasetsDraw(chart: any) {
    const { ctx } = chart;
    const meta = chart.getDatasetMeta(0);
    const values: number[] = chart.data.datasets[0].data;
    const total = values.reduce((a, b) => a + b, 0);
    ctx.save();
    ctx.font = `12px ${FONT}`;
    ctx.fillStyle = TEXT;
    ctx.textBaseline = "middle";
    meta.data.forEach((arc: any, i: number) => {
      const { x, y, startAngle, endAngle, outerRadius } = arc.getProps(["x", "y", "startAngle", "endAngle", "outerRadius"], true);
      const mid = (startAngle + endAngle) / 2;
      const c = Math.cos(mid);
      const s = Math.sin(mid);
      ctx.textAlign = c >= 0 ? "left" : "right";
      ctx.fillText(chart.data.labels[i], x + c * outerRadius * 1.1, y + s * outerRadius * 1.1);
      ctx.textAlign = "center";
      ctx.fillText(((values[i] / total) * 100).toFixed(1) + "%", x + c * outerRadius * 0.6, y + s * outerRadius * 0.6);
    });
    ctx.restore();
  },
};

// ---------- chart configs ----------
function walksConfig(): any {
  return {
    type: "line",
    data: {
      datasets: walks.map((w, i) => ({
        label: `series ${i}`,
        data: w.map((v, t) => ({ x: timeSteps[t], y: v })),
        borderColor: hexA(walkColors[i % walkColors.length], 0.55),
        borderWidth: 2.6,
        borderJoinStyle: "round",
        pointRadius: 0,
        tension: 0,
        fill: false,
      })),
    },
    options: {
      animation: false,
      responsive: false,
      devicePixelRatio: 1,
      events: [],
      layout: { padding: { left: 0, right: 7, top: 0, bottom: 0 } },
      plugins: { legend: { display: false }, tooltip: { enabled: false }, title: titleOpt("Cybersecurity Data over Time", 4.3, 6.3) },
      scales: { x: xAxis(-1.45, 30.45, 5, 29), y: yAxis(-20.15, 24.4, 5, 50) },
    },
    plugins: [framePlugin],
  };
}

function cnnConfig(): any {
  return {
    type: "line",
    data: {
      datasets: [
        {
          label: "CNN Model Scores",
          data: cnnScores.map((v, i) => ({ x: i, y: v })),
          borderColor: "#ff0000",
          borderWidth: 1.5,
          borderJoinStyle: "round",
          pointRadius: 0,
          tension: 0,
          fill: false,
        },
      ],
    },
    options: {
      animation: false,
      responsive: false,
      devicePixelRatio: 1,
      events: [],
      layout: { padding: { left: 0, right: 7, top: 0, bottom: 0 } },
      plugins: { legend: { display: false }, tooltip: { enabled: false }, title: titleOpt("CNN Model Scores over Time", 4.3, 6.3) },
      scales: { x: xAxis(-50, 1049, 200, 29), y: yAxis(-12.03, 12.84, 5, 43) },
    },
    plugins: [framePlugin, insideLegend],
  };
}

function histConfig(): any {
  const binW = (histEdgeMax - histEdgeMin) / histCounts.length;
  return {
    type: "bar",
    data: {
      datasets: [
        {
          label: "count",
          data: histCounts.map((c, k) => ({ x: histEdgeMin + (k + 0.5) * binW, y: c })),
          backgroundColor: "#4da64d",
          borderWidth: 0,
          barPercentage: 1,
          categoryPercentage: 1,
        },
      ],
    },
    options: {
      animation: false,
      responsive: false,
      devicePixelRatio: 1,
      events: [],
      layout: { padding: { left: 0, right: 7, top: 0, bottom: 0 } },
      plugins: { legend: { display: false }, tooltip: { enabled: false }, title: titleOpt("Histogram of CNN Model Scores", 6.3, 5.3) },
      scales: { x: xAxis(-12.08, 12.87, 5, 22), y: yAxis(0, 147, 20, 50) },
    },
    plugins: [framePlugin],
  };
}

function pieConfig(): any {
  const order = [4, 3, 2, 1, 0];
  return {
    type: "pie",
    data: {
      labels: order.map((i) => threatLabels[i]),
      datasets: [
        {
          data: order.map((i) => threatShares[i]),
          backgroundColor: order.map((i) => threatColors[i]),
          borderWidth: 0,
          hoverOffset: 0,
          hoverBorderWidth: 0,
          offset: 0,
        },
      ],
    },
    options: {
      animation: false,
      responsive: false,
      devicePixelRatio: 1,
      events: [],
      rotation: -50,
      layout: { padding: { left: 36, right: 0, top: 0, bottom: 43.1 } },
      plugins: { legend: { display: false }, tooltip: { enabled: false }, title: titleOpt("Distribution of Threat Categories", 5.1, 25.4) },
    },
    plugins: [pieLabelPlugin],
  };
}

// ---------- components ----------
function ChartBox(props: { left: number; top: number; width: number; height: number; stretch?: number; make: () => any }) {
  const ref = useRef<HTMLCanvasElement>(null);
  const { left, top, width, height, stretch = 1, make } = props;
  useEffect(() => {
    const chart = new Chart(ref.current as HTMLCanvasElement, make());
    return () => chart.destroy();
  }, []);
  return (
    <div
      style={{
        position: "absolute",
        left,
        top,
        width,
        height,
        transform: stretch !== 1 ? `scaleY(${stretch})` : undefined,
        transformOrigin: "top left",
      }}
    >
      <canvas ref={ref} width={width} height={height} style={{ display: "block", width: `${width}px`, height: `${height}px` }} />
    </div>
  );
}

export default function App() {
  return (
    <div style={{ position: "fixed", left: 0, top: 0, width: 1125, height: 595, background: "#fff", overflow: "hidden" }}>
      <ChartBox left={10} top={8} width={560} height={302} make={walksConfig} />
      <ChartBox left={572} top={8} width={553} height={302} make={cnnConfig} />
      <ChartBox left={10} top={298} width={560} height={297} make={histConfig} />
      <ChartBox left={572} top={298} width={553} height={268} stretch={1.107} make={pieConfig} />
      <div
        style={{
          position: "absolute",
          left: 7,
          top: 6,
          width: 1118,
          height: 589,
          borderTop: "2px solid #ff0000",
          borderLeft: "2px solid #ff0000",
          boxSizing: "border-box",
          pointerEvents: "none",
        }}
      />
    </div>
  );
}
